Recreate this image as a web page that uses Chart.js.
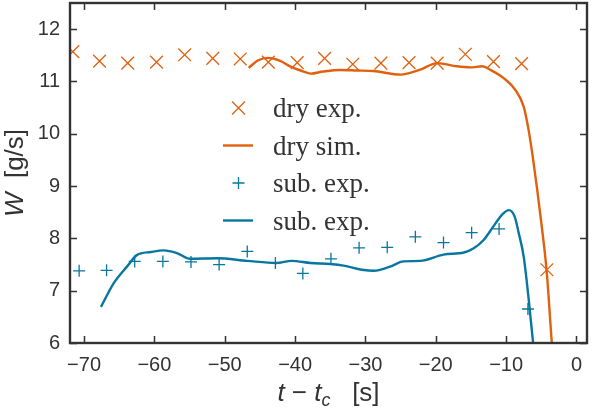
<!DOCTYPE html>
<html>
<head>
<meta charset="utf-8">
<script src="https://cdn.jsdelivr.net/npm/chart.js@4"></script>
<style>
  body { margin: 0; background: #fff; }
  #wrap { width: 592px; height: 411px; }
</style>
</head>
<body>
<div id="wrap"><canvas id="myChart" width="592" height="411"></canvas></div>
<script>
// measured points (time relative to t_c in s, mass flow in g/s)
const dryExpT = [-71.6, -67.8, -63.8, -59.7, -55.7, -51.7, -47.8, -43.8, -39.7, -35.8, -31.8, -27.8, -23.8, -19.8, -15.8, -11.8, -7.8, -4.2];
const dryExpW = [11.57, 11.39, 11.35, 11.37, 11.51, 11.44, 11.43, 11.37, 11.36, 11.44, 11.33, 11.35, 11.36, 11.35, 11.52, 11.38, 11.34, 7.40];

const subExpT = [-70.7, -66.8, -62.8, -58.8, -54.8, -50.8, -46.8, -42.8, -38.9, -34.9, -30.9, -26.9, -22.9, -18.9, -14.9, -11.0, -6.9];
const subExpW = [7.38, 7.39, 7.56, 7.56, 7.55, 7.50, 7.75, 7.53, 7.33, 7.61, 7.82, 7.83, 8.03, 7.92, 8.11, 8.18, 6.65];

// simulation curves
const drySimT = [-46.6, -45.3, -43.8, -42.2, -40.7, -39.0, -37.8, -36.0, -33.6, -31.2, -28.9, -25.0, -22.3, -19.8, -17.0, -15.1, -13.4, -12.2, -10.3, -8.7, -7.5, -6.8, -6.2, -5.6, -5.0, -4.25, -3.5, -3.2];
const drySimW = [11.26, 11.40, 11.45, 11.40, 11.29, 11.20, 11.15, 11.19, 11.22, 11.21, 11.20, 11.13, 11.22, 11.35, 11.29, 11.27, 11.29, 11.22, 11.06, 10.84, 10.52, 10.07, 9.55, 8.95, 8.30, 7.40, 6.00, 5.50];

const subSimT = [-67.6, -65.8, -63.9, -62.5, -60.5, -58.7, -56.8, -54.9, -51.1, -46.8, -42.6, -40.5, -37.8, -35.0, -33.1, -30.5, -28.8, -26.5, -24.6, -22.2, -18.9, -16.0, -14.6, -13.2, -11.8, -10.6, -9.6, -8.8, -8.2, -7.5, -6.8, -6.16, -5.9];
const subSimW = [6.69, 7.14, 7.46, 7.68, 7.74, 7.77, 7.72, 7.61, 7.62, 7.57, 7.53, 7.57, 7.53, 7.51, 7.48, 7.40, 7.38, 7.46, 7.56, 7.57, 7.69, 7.73, 7.81, 7.97, 8.23, 8.45, 8.54, 8.42, 8.10, 7.65, 6.85, 6.00, 5.60];

const xTicks = [-70, -60, -50, -40, -30, -20, -10, 0];
const yTicks = [6, 7, 8, 9, 10, 11, 12];

const orange = '#e0600e';
const blue = '#07779f';
const ink = '#333333';

function pts(xs, ys) {
    return xs.map(function (x, i) { return { x: x, y: ys[i] }; });
}
function minus(v) {
    return String(v).replace('-', '\u2212');
}

// frame, inward ticks on all sides, axis titles and legend
const decorations = {
    id: 'decorations',
    afterDraw(chart) {
        const c = chart.ctx;
        const a = chart.chartArea;
        const sx = chart.scales.x, sy = chart.scales.y;
        c.save();
        c.strokeStyle = ink;
        c.lineWidth = 1.5;
        xTicks.forEach(function (v) {
            const px = Math.round(sx.getPixelForValue(v)) + 0.5;
            c.beginPath();
            c.moveTo(px, a.bottom); c.lineTo(px, a.bottom - 7);
            c.moveTo(px, a.top); c.lineTo(px, a.top + 7);
            c.stroke();
        });
        yTicks.forEach(function (v) {
            const py = Math.round(sy.getPixelForValue(v)) + 0.5;
            c.beginPath();
            c.moveTo(a.left, py); c.lineTo(a.left + 7, py);
            c.moveTo(a.right, py); c.lineTo(a.right - 7, py);
            c.stroke();
        });
        c.lineWidth = 2.4;
        c.strokeRect(a.left, a.top, a.right - a.left, a.bottom - a.top);

        // x title: t − t_c  [s]
        c.fillStyle = ink;
        c.textBaseline = 'alphabetic';
        const it = 'italic 26px "Liberation Sans"';
        const rg = '26px "Liberation Sans"';
        const sub = 'italic 18px "Liberation Sans"';
        const parts = [[it, 't', 0], [rg, ' \u2212 ', 0], [it, 't', 0], [sub, 'c', 5], [rg, '   [s]', 0]];
        let w = 0;
        parts.forEach(function (p) { c.font = p[0]; w += c.measureText(p[1]).width; });
        let x = (a.left + a.right) / 2 - w / 2;
        parts.forEach(function (p) {
            c.font = p[0];
            c.fillText(p[1], x, 401 + p[2]);
            x += c.measureText(p[1]).width;
        });

        // y title: W  [g/s]
        c.save();
        c.translate(23, (a.top + a.bottom) / 2);
        c.rotate(-Math.PI / 2);
        const yparts = [[it, 'W', 0], [rg, '  [g/s]', 0]];
        w = 0;
        yparts.forEach(function (p) { c.font = p[0]; w += c.measureText(p[1]).width; });
        x = -w / 2;
        yparts.forEach(function (p) {
            c.font = p[0];
            c.fillText(p[1], x, 0);
            x += c.measureText(p[1]).width;
        });
        c.restore();

        // legend
        const rows = [108, 145.5, 183, 220.5];
        chart.data.datasets.forEach(function (ds, i) {
            const cy = rows[i];
            c.strokeStyle = ds.borderColor;
            c.beginPath();
            if (ds.showLine === false) {
                c.lineWidth = 1.3;
                if (ds.pointStyle === 'crossRot') {
                    c.moveTo(232, cy - 6.5); c.lineTo(245, cy + 6.5);
                    c.moveTo(232, cy + 6.5); c.lineTo(245, cy - 6.5);
                } else {
                    c.moveTo(232.5, cy); c.lineTo(244.5, cy);
                    c.moveTo(238.5, cy - 6); c.lineTo(238.5, cy + 6);
                }
            } else {
                c.lineWidth = 2.4;
                c.moveTo(223, cy); c.lineTo(253, cy);
            }
            c.stroke();
            c.fillStyle = ink;
            c.font = '27px "Liberation Serif"';
            c.fillText(ds.label, 273, cy + 9);
        });
        c.restore();
    }
};

new Chart(document.getElementById('myChart'), {
    type: 'scatter',
    data: {
        datasets: [{
            label: 'dry exp.',
            data: pts(dryExpT, dryExpW),
            showLine: false,
            pointStyle: 'crossRot',
            pointRadius: 9,
            pointBorderWidth: 1.3,
            borderColor: orange,
            backgroundColor: orange
        }, {
            label: 'dry sim.',
            data: pts(drySimT, drySimW),
            showLine: true,
            pointRadius: 0,
            borderWidth: 2.4,
            cubicInterpolationMode: 'monotone',
            borderColor: orange
        }, {
            label: 'sub. exp.',
            data: pts(subExpT, subExpW),
            showLine: false,
            pointStyle: 'cross',
            pointRadius: 6,
            pointBorderWidth: 1.3,
            borderColor: blue,
            backgroundColor: blue
        }, {
            label: 'sub. exp.',
            data: pts(subSimT, subSimW),
            showLine: true,
            pointRadius: 0,
            borderWidth: 2.4,
            cubicInterpolationMode: 'monotone',
            borderColor: blue
        }]
    },
    options: {
        responsive: false,
        animation: false,
        layout: { autoPadding: false, padding: { left: 0, right: 5, top: 3, bottom: 0 } },
        plugins: {
            legend: { display: false },
            tooltip: { enabled: false }
        },
        scales: {
            x: {
                type: 'linear',
                min: -72,
                max: 1.5,
                afterBuildTicks: function (scale) { scale.ticks = xTicks.map(function (v) { return { value: v }; }); },
                afterFit: function (scale) {
                    scale.height = 68;
                    scale.paddingLeft = 0;
                    scale.paddingRight = 0;
                },
                grid: { display: false, drawTicks: false },
                border: { display: false },
                ticks: {
                    padding: 10,
                    color: ink,
                    font: { family: 'Liberation Sans', size: 20 },
                    maxRotation: 0,
                    callback: function (v) { return minus(v); }
                }
            },
            y: {
                min: 6,
                max: 12.5,
                afterBuildTicks: function (scale) { scale.ticks = yTicks.map(function (v) { return { value: v }; }); },
                afterFit: function (scale) {
                    scale.width = 70;
                    scale.paddingTop = 0;
                    scale.paddingBottom = 0;
                },
                grid: { display: false, drawTicks: false },
                border: { display: false },
                ticks: {
                    padding: 10,
                    color: ink,
                    font: { family: 'Liberation Sans', size: 20 },
                    callback: function (v) { return minus(v); }
                }
            }
        }
    },
    plugins: [decorations]
});
</script>
</body>
</html>
